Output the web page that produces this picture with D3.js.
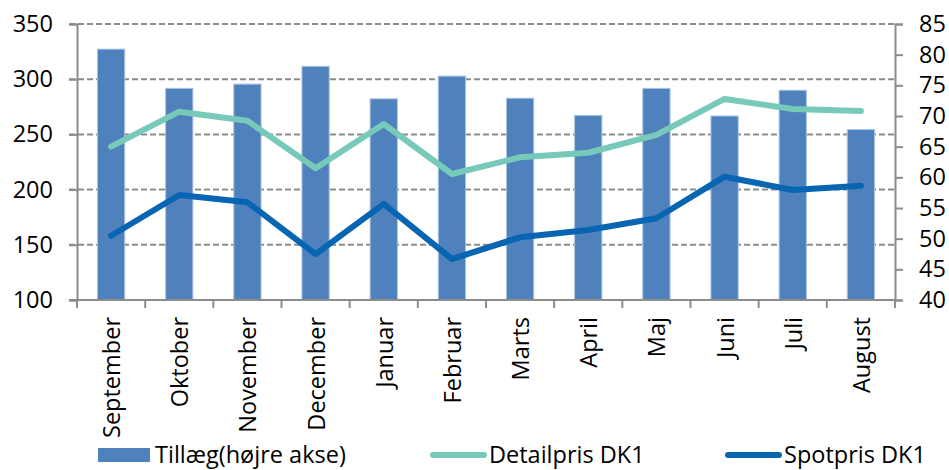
<!DOCTYPE html>
<html>
<head>
<meta charset="utf-8">
<script src="https://cdn.jsdelivr.net/npm/d3@7"></script>
<style>
  body { margin: 0; background: #fff; }
  svg { display: block; font-family: "Open Sans", Lato, sans-serif; }
</style>
</head>
<body>
<script>
// data
const months = ["September", "Oktober", "November", "December", "Januar", "Februar",
                "Marts", "April", "Maj", "Juni", "Juli", "August"];
const tillaeg = [80.9, 74.5, 75.2, 78.1, 72.8, 76.5, 72.9, 70.1, 74.5, 70.0, 74.2, 67.8];
const detailpris = [238.9, 270.6, 262.4, 219.3, 259.4, 214.1, 229.3, 233.4, 249.5, 282.1, 273.0, 271.2];
const spotpris = [158.2, 195.1, 188.5, 141.5, 187.0, 137.1, 156.8, 163.4, 174.0, 211.7, 199.6, 203.5];
const leftTicks = [100, 150, 200, 250, 300, 350];
const rightTicks = [40, 45, 50, 55, 60, 65, 70, 75, 80, 85];

const width = 949, height = 470;
const margin = {top: 24, right: 54, bottom: 170, left: 77};
const axisColor = "#8c8c8c";
const fontSize = 23.5;

const svg = d3.select("body").append("svg")
    .attr("width", width)
    .attr("height", height);

const x = d3.scaleBand()
    .domain(months)
    .range([margin.left, width - margin.right])
    .paddingInner(0.6)
    .paddingOuter(0.3);

const yL = d3.scaleLinear().domain([100, 350]).range([height - margin.bottom, margin.top]);
const yR = d3.scaleLinear().domain([40, 85]).range([height - margin.bottom, margin.top]);

const x0 = margin.left, x1 = width - margin.right;

// gridlines (dashed)
svg.append("g")
  .selectAll("line")
  .data(leftTicks.filter(d => d > 100))
  .join("line")
    .attr("x1", x0 - 8).attr("x2", x1)
    .attr("y1", d => yL(d)).attr("y2", d => yL(d))
    .attr("stroke", axisColor)
    .attr("stroke-width", 2)
    .attr("stroke-dasharray", "6,3");

// bars
svg.append("g")
  .selectAll("rect")
  .data(months)
  .join("rect")
    .attr("x", d => x(d))
    .attr("width", x.bandwidth())
    .attr("y", (d, i) => yR(tillaeg[i]))
    .attr("height", (d, i) => yR(40) - yR(tillaeg[i]))
    .attr("fill", "#4f81bd")
    .attr("stroke", "#a9c3e3")
    .attr("stroke-width", 1);

// lines
const line = d3.line()
    .x((d, i) => x(months[i]) + x.bandwidth() / 2)
    .y(d => yL(d));

svg.append("path")
    .datum(detailpris)
    .attr("d", line)
    .attr("fill", "none")
    .attr("stroke", "#77c9b9")
    .attr("stroke-width", 6)
    .attr("stroke-linecap", "round")
    .attr("stroke-linejoin", "round");

svg.append("path")
    .datum(spotpris)
    .attr("d", line)
    .attr("fill", "none")
    .attr("stroke", "#0865b2")
    .attr("stroke-width", 6)
    .attr("stroke-linecap", "round")
    .attr("stroke-linejoin", "round");

// left axis
const gl = svg.append("g")
    .attr("transform", `translate(${x0},0)`)
    .call(d3.axisLeft(yL).tickValues(leftTicks).tickSize(8).tickPadding(16));
// right axis
const gr = svg.append("g")
    .attr("transform", `translate(${x1},0)`)
    .call(d3.axisRight(yR).tickValues(rightTicks).tickSize(8).tickPadding(16));

[gl, gr].forEach(g => {
  g.select(".domain").attr("stroke", axisColor).attr("stroke-width", 2);
  g.selectAll(".tick line").attr("stroke", axisColor).attr("stroke-width", 2);
  g.selectAll(".tick text").attr("font-size", fontSize).attr("fill", "#000")
    .attr("font-family", "'Open Sans', Lato, sans-serif");
});

// bottom axis
const base = yL(100);
svg.append("line")
    .attr("x1", x0 - 8).attr("x2", x1)
    .attr("y1", base).attr("y2", base)
    .attr("stroke", axisColor).attr("stroke-width", 2);
svg.append("g")
  .selectAll("line")
  .data(d3.range(months.length + 1))
  .join("line")
    .attr("x1", i => x0 + i * (x1 - x0) / months.length)
    .attr("x2", i => x0 + i * (x1 - x0) / months.length)
    .attr("y1", base).attr("y2", base + 8)
    .attr("stroke", axisColor).attr("stroke-width", 2);

svg.append("g")
  .selectAll("text")
  .data(months)
  .join("text")
    .attr("transform", d => `translate(${x(d) + x.bandwidth() / 2 + 9},${base + 17}) rotate(-90)`)
    .attr("text-anchor", "end")
    .attr("font-size", fontSize)
    .text(d => d);

// legend
const ly = 455;
const legend = svg.append("g").attr("font-size", fontSize);
legend.append("rect")
    .attr("x", 98).attr("y", ly - 7).attr("width", 52).attr("height", 14)
    .attr("fill", "#4f81bd");
legend.append("text").attr("x", 155).attr("y", ly + 8).text("Tillæg(højre akse)");

legend.append("line")
    .attr("x1", 433).attr("x2", 484).attr("y1", ly).attr("y2", ly)
    .attr("stroke", "#77c9b9").attr("stroke-width", 6).attr("stroke-linecap", "round");
legend.append("text").attr("x", 489).attr("y", ly + 8).text("Detailpris DK1");

legend.append("line")
    .attr("x1", 728).attr("x2", 779).attr("y1", ly).attr("y2", ly)
    .attr("stroke", "#0865b2").attr("stroke-width", 6).attr("stroke-linecap", "round");
legend.append("text").attr("x", 784).attr("y", ly + 8).text("Spotpris DK1");
</script>
</body>
</html>
